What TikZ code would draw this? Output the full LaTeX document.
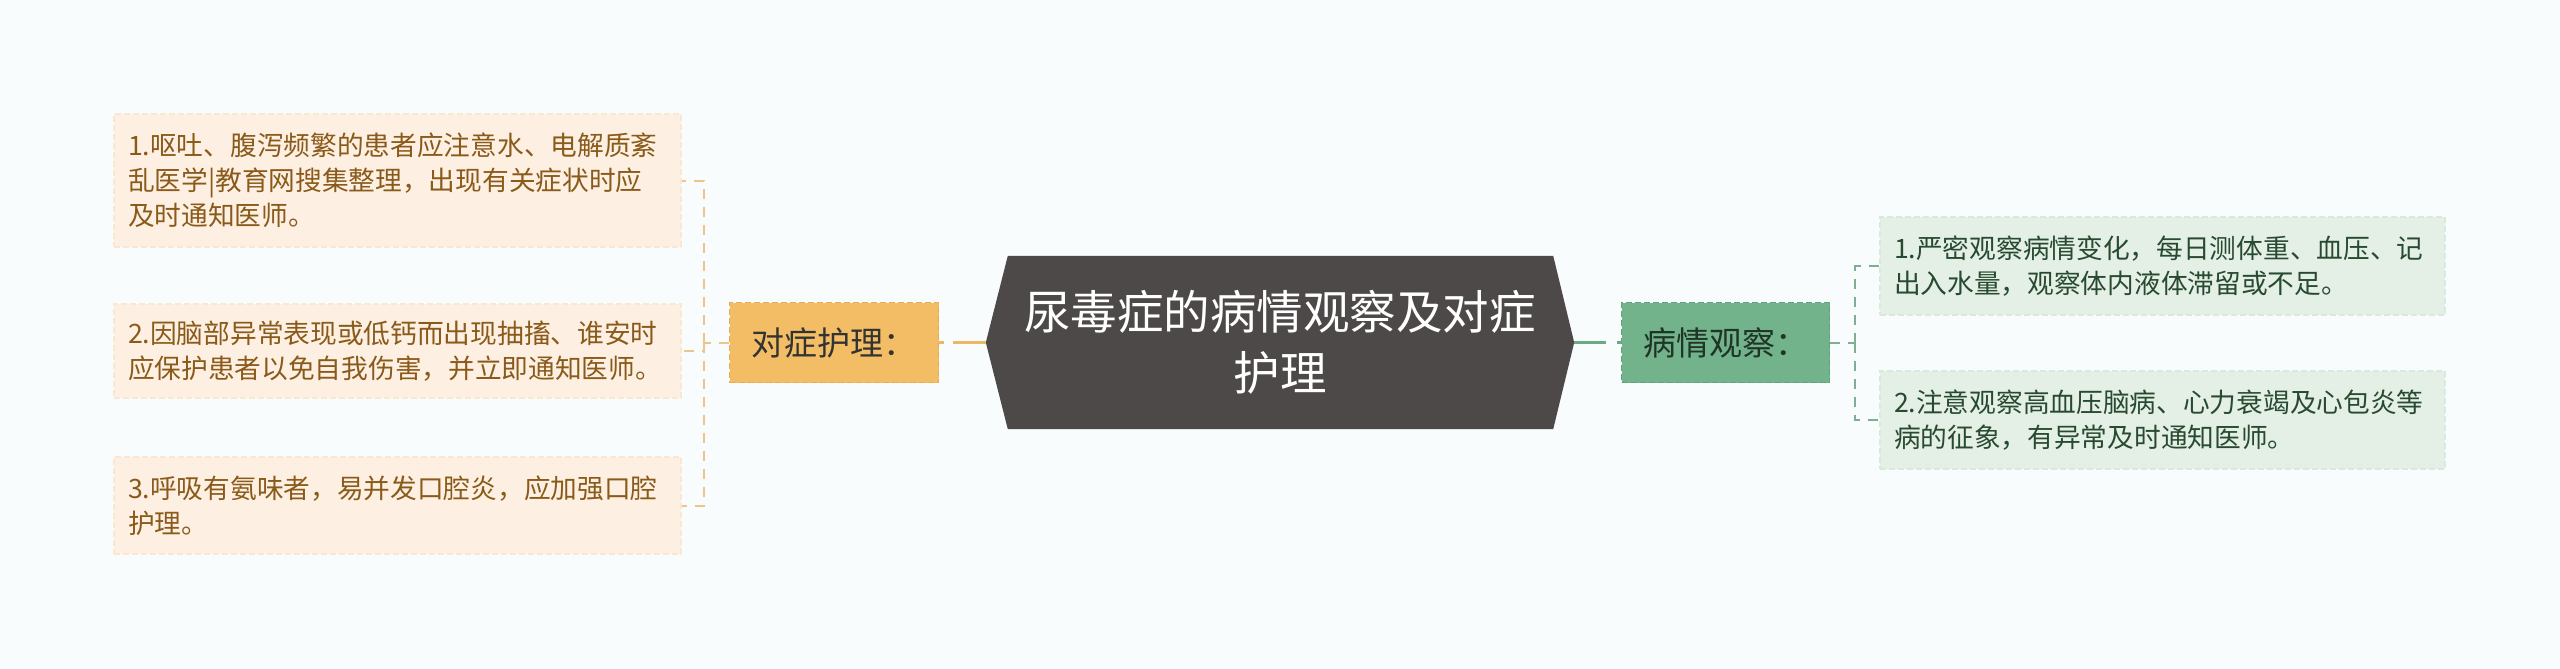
\documentclass[tikz,border=0pt]{standalone}
\usepackage{fontspec}
\setmainfont{Noto Sans CJK SC}
\usetikzlibrary{backgrounds,calc}
\definecolor{bgc}{HTML}{F8FCFC}
\definecolor{hexc}{HTML}{4D4948}
\definecolor{orfill}{HTML}{F2BD64}
\definecolor{orbd}{HTML}{E6AF55}
\definecolor{orline}{HTML}{EDB865}
\definecolor{orbr}{HTML}{EEC48C}
\definecolor{lbg}{HTML}{FDF0E2}
\definecolor{lbd}{HTML}{F9E7D2}
\definecolor{ltx}{HTML}{8A5A1A}
\definecolor{gfill}{HTML}{72B38B}
\definecolor{gbd}{HTML}{62A27C}
\definecolor{gline}{HTML}{6AAA84}
\definecolor{gbr}{HTML}{7DAF90}
\definecolor{rbg}{HTML}{E4EFE6}
\definecolor{rbd}{HTML}{DAE9DD}
\definecolor{rtx}{HTML}{284A30}
\definecolor{gtx}{HTML}{1F3527}
\definecolor{otx}{HTML}{333333}
\begin{document}
\begin{tikzpicture}[x=1pt,y=-1pt,
  leafbase/.style={dash pattern=on 6pt off 3pt, line width=1.2pt,
    font=\fontsize{26.7}{35}\selectfont, align=left, text width=539pt,
    inner xsep=14pt, inner ysep=6pt},
  leafL/.style={leafbase, fill=lbg, draw=lbd, text=ltx},
  leafR/.style={leafbase, fill=rbg, draw=rbd, text=rtx, text width=537pt},
  topicbox/.style={dash pattern=on 6pt off 3pt, line width=1.5pt,
    font=\fontsize{33}{40}\selectfont, minimum width=209pt, minimum height=80pt, inner sep=0pt},
  brL/.style={draw=orbr, line width=2pt, dash pattern=on 10pt off 8pt},
  brR/.style={draw=gbr, line width=2pt, dash pattern=on 10pt off 8pt}]
\begin{pgfonlayer}{background}
\fill[bgc] (0,0) rectangle (2560,669);
\end{pgfonlayer}
\useasboundingbox (0,0) rectangle (2560,669);

\node[text=white, font=\fontsize{46.5}{60.5}\selectfont, align=center,
  minimum width=588pt, minimum height=173pt, inner sep=0pt] (root) at (1280,342.5)
  {尿毒症的病情观察及对症\\护理};
\begin{pgfonlayer}{background}
\fill[hexc] (root.west) -- ($(root.north west)+(22,0)$) -- ($(root.north east)+(-21,0)$)
  -- (root.east) -- ($(root.south east)+(-21,0)$) -- ($(root.south west)+(22,0)$) -- cycle;
\end{pgfonlayer}

\node[topicbox, fill=orfill, draw=orbd, text=otx] (dz) at (834,342.5) {对症护理：};
\node[topicbox, fill=gfill, draw=gbd, text=gtx, minimum width=208pt] (bq) at (1725.5,342.5) {病情观察：};

\node[leafL, minimum height=133pt] (l1) at (397.5,180.5)
  {1.呕吐、腹泻频繁的患者应注意水、电解质紊\\乱医学|教育网搜集整理，出现有关症状时应\\及时通知医师。};
\node[leafL, minimum height=94pt] (l2) at (397.5,351)
  {2.因脑部异常表现或低钙而出现抽搐、谁安时\\应保护患者以免自我伤害，并立即通知医师。};
\node[leafL, minimum height=97pt] (l3) at (397.5,505.5)
  {3.呼吸有氨味者，易并发口腔炎，应加强口腔\\护理。};

\node[leafR, minimum height=98pt] (r1) at (2162.5,266)
  {1.严密观察病情变化，每日测体重、血压、记\\出入水量，观察体内液体滞留或不足。};
\node[leafR, minimum height=98pt] (r2) at (2162.5,420)
  {2.注意观察高血压脑病、心力衰竭及心包炎等\\病的征象，有异常及时通知医师。};

\draw[orline, line width=3pt, dash pattern=on 5pt off 9pt on 60pt] (dz.east) -- (root.west);
\draw[gline, line width=3pt, dash pattern=on 32pt off 11pt on 60pt] (root.east) -- (bq.west);

\draw[brL] (dz.west) -- ++(-25,0) coordinate (jl);
\draw[brL] (jl) |- (l1.east);
\draw[brL] (jl) |- (l2.east);
\draw[brL] (jl) |- (l3.east);

\draw[brR] (bq.east) -- ++(25,0) coordinate (jr);
\draw[brR] (jr) |- (r1.west);
\draw[brR] (jr) |- (r2.west);
\end{tikzpicture}
\end{document}
